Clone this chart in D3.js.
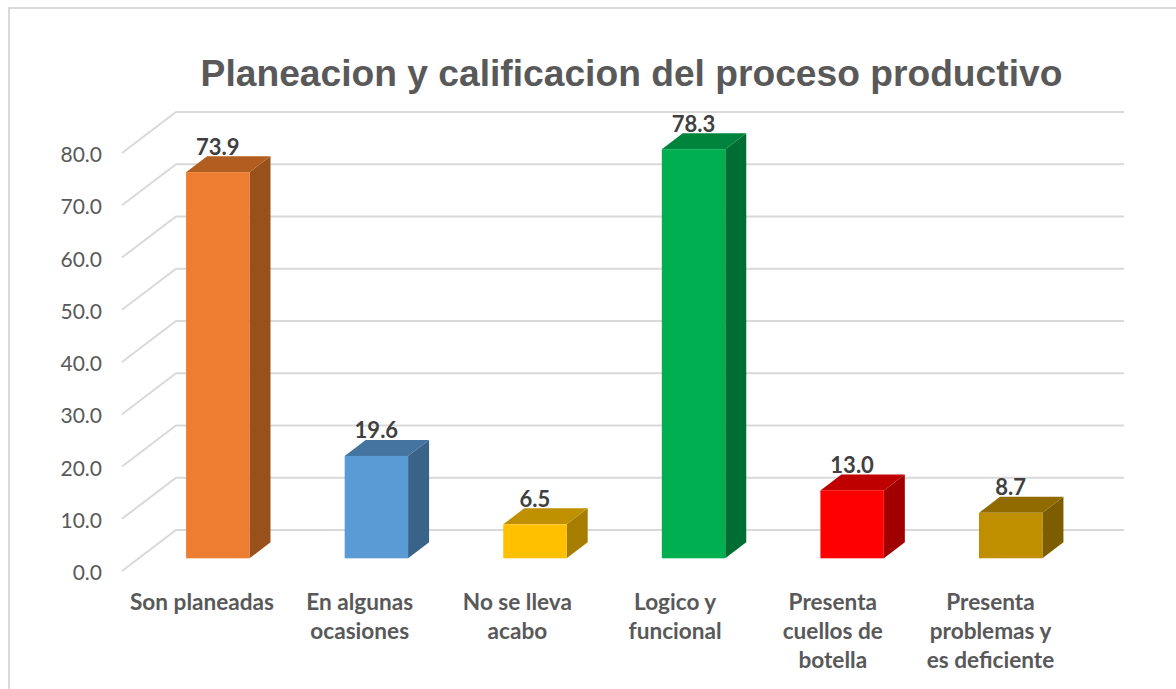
<!DOCTYPE html>
<html>
<head>
<meta charset="utf-8">
<script src="https://d3js.org/d3.v7.min.js"></script>
<style>
  html, body { margin: 0; padding: 0; background: #fff; }
  svg { display: block; }
  .tick text { font-family: Lato, sans-serif; font-size: 21px; fill: #595959; }
  .cat { font-family: Lato, sans-serif; font-size: 22.6px; font-weight: 700; fill: #595959; text-anchor: middle; }
  .val { font-family: Lato, sans-serif; font-size: 22px; font-weight: 700; fill: #404040; text-anchor: middle; }
  .title { font-family: "Liberation Sans", Arial, sans-serif; font-size: 37.2px; font-weight: 700; fill: #595959; text-anchor: middle; }
</style>
</head>
<body>
<div id="chart"></div>
<script>
const chartTitle = "Planeacion y calificacion del proceso productivo";
const categories = ["Son planeadas", "En algunas ocasiones", "No se lleva acabo", "Logico y funcional", "Presenta cuellos de botella", "Presenta problemas y es deficiente"];
const categoryLines = [["Son planeadas"], ["En algunas", "ocasiones"], ["No se lleva", "acabo"], ["Logico y", "funcional"], ["Presenta", "cuellos de", "botella"], ["Presenta", "problemas y", "es deficiente"]];
const values = [73.9, 19.6, 6.5, 78.3, 13.0, 8.7];
const tickValues = [0, 10, 20, 30, 40, 50, 60, 70, 80];
const frontColors = ["#ED7D31", "#5B9BD5", "#FFC000", "#00B050", "#FF0000", "#BF8F00"];
const topColors = ["#B25E20", "#44749F", "#BF9000", "#00843C", "#BF0000", "#8F6B00"];
const sideColors = ["#98511A", "#3A638A", "#A67D00", "#006E32", "#A00000", "#7C5D00"];

const width = 1176, height = 689;

// floor of the 3d box: front edge to back wall
const wallDepth = { x: 54, y: -41 };
const barDepth = { x: 21, y: -16 };
const barBaseLift = 12.7;

const svg = d3.select("#chart").append("svg")
  .attr("width", width)
  .attr("height", height);

svg.append("rect")
  .attr("x", 9).attr("y", 8)
  .attr("width", width + 20).attr("height", height + 20)
  .attr("fill", "#fff")
  .attr("stroke", "#d9d9d9")
  .attr("stroke-width", 2);

svg.append("text")
  .attr("class", "title")
  .attr("x", 631.5).attr("y", 86)
  .text(chartTitle);

const y = d3.scaleLinear().domain([0, 80]).range([571, 153]);
const x = d3.scaleBand().domain(categories).range([138.5, 1090]).paddingInner(0.6).paddingOuter(0.3);
// the category labels sit on the front edge, so they run at a slightly tighter step than the bars
const xLabel = d3.scalePoint().domain(categories).range([202, 990.5]);

// gridlines: slanted piece on the side wall plus the run along the back wall
const grid = svg.append("g");
grid.selectAll("path")
  .data(tickValues)
  .enter().append("path")
  .attr("d", d => `M122,${y(d)}L${122 + wallDepth.x},${y(d) + wallDepth.y}H1124`)
  .attr("fill", "none")
  .attr("stroke", "#d9d9d9")
  .attr("stroke-width", 2);

const yAxis = svg.append("g")
  .attr("transform", "translate(102,2)")
  .call(d3.axisLeft(y).tickValues(tickValues).tickSize(0).tickPadding(0).tickFormat(d3.format(".1f")));
yAxis.select(".domain").remove();

const bars = svg.append("g").selectAll("g")
  .data(values)
  .enter().append("g");

const x0 = (d, i) => x(categories[i]);
const x1 = (d, i) => x(categories[i]) + x.bandwidth();
const yBase = y(0) - barBaseLift;
const yTop = d => yBase - (y(0) - y(d));

bars.append("path")
  .attr("fill", (d, i) => sideColors[i])
  .attr("d", (d, i) => `M${x1(d, i)},${yTop(d)}l${barDepth.x},${barDepth.y}V${yBase + barDepth.y}l${-barDepth.x},${-barDepth.y}Z`);

bars.append("path")
  .attr("fill", (d, i) => topColors[i])
  .attr("d", (d, i) => `M${x0(d, i)},${yTop(d)}l${barDepth.x},${barDepth.y}H${x1(d, i) + barDepth.x}l${-barDepth.x},${-barDepth.y}Z`);

bars.append("rect")
  .attr("fill", (d, i) => frontColors[i])
  .attr("x", x0)
  .attr("y", yTop)
  .attr("width", x.bandwidth())
  .attr("height", d => yBase - yTop(d));

bars.append("text")
  .attr("class", "val")
  .attr("x", (d, i) => x0(d, i) + x.bandwidth() / 2)
  .attr("y", d => yTop(d) - 17.5)
  .text(d => d.toFixed(1));

const labels = svg.append("g").selectAll("text")
  .data(categoryLines)
  .enter().append("text")
  .attr("class", "cat")
  .attr("transform", (d, i) => `translate(${xLabel(categories[i])},610)`);

labels.selectAll("tspan")
  .data(d => d)
  .enter().append("tspan")
  .attr("x", 0)
  .attr("y", (d, i) => i * 29)
  .text(d => d);
</script>
</body>
</html>
